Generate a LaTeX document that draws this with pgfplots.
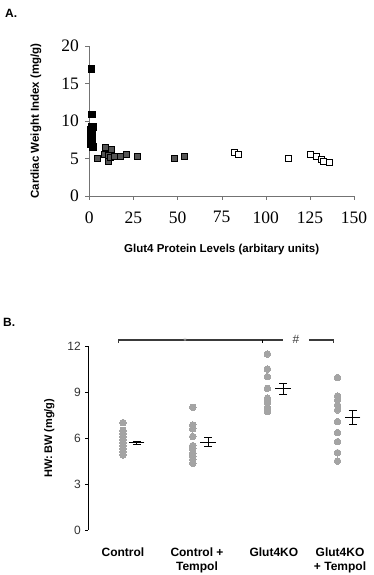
\documentclass[border=0pt]{standalone}
\usepackage{pgfplots}
\pgfplotsset{compat=1.18}
\usepackage{fontspec}
\setmainfont{Liberation Sans}
\newfontfamily\seriffont{Liberation Serif}
\definecolor{darkgraysq}{HTML}{555555}
\definecolor{dotgray}{HTML}{A4A4A4}
\definecolor{brk}{HTML}{3A3A3A}
\begin{document}
\begin{tikzpicture}
\useasboundingbox (0pt,0pt) rectangle (373pt,575pt);
\node[anchor=north west,font=\bfseries\fontsize{12}{12}\selectfont,inner sep=0pt] at (5pt,566pt) {A.};
\node[anchor=north west,font=\bfseries\fontsize{12}{12}\selectfont,inner sep=0pt] at (3pt,257pt) {B.};
% Panel A
\begin{axis}[
  at={(89.3pt,379pt)}, anchor=south west,
  scale only axis, width=264.7pt, height=150pt,
  xmin=0, xmax=150, ymin=0, ymax=20,
  axis lines=left, axis line style={-, black!55},
  xtick={0,25,...,150}, ytick={0,5,...,20},
  tick align=outside, major tick length=4pt,
  tick style={black!55},
  /pgf/number format/assume math mode=true,
  ticklabel style={font=\seriffont\fontsize{17.5}{17.5}\selectfont},
  xticklabel style={yshift=-8pt},
  yticklabel style={xshift=-3pt},
  xlabel={Glut4 Protein Levels (arbitary units)},
  ylabel={Cardiac Weight Index (mg/g)},
  label style={font=\bfseries\fontsize{11.5}{11.5}\selectfont},
  xlabel style={yshift=-14pt},
  ylabel style={yshift=13pt},
  clip=false,
]
\addplot[only marks, mark=square*, mark size=3.3pt, mark options={fill=black, draw=black}] coordinates {
(1,17) (1.5,10.9) (1,9.3) (1.8,9.2) (0.5,8.9) (1.2,8.6) (0.8,8.3) (1.5,8.0) (0.6,7.7) (1.3,7.4) (0.9,7.0) (1.8,6.6)
};
\addplot[only marks, mark=square*, mark size=3pt, mark options={fill=darkgraysq, draw=black, line width=0.8pt}] coordinates {
(4.5,5.03) (8.3,5.6) (8.9,6.45) (10.8,5.47) (10.8,4.57) (12.0,5.1) (12.7,6.23) (14,5.33) (17.4,5.24) (20.8,5.6) (27.2,5.24) (48,4.95) (53.9,5.25)
};
\addplot[only marks, mark=square*, mark size=3pt, mark options={fill=white, draw=black, line width=0.8pt}] coordinates {
(82.0,5.78) (84.5,5.6) (112.8,5.0) (125.5,5.55) (128.9,5.25) (131.7,4.9) (132.6,4.67) (135.9,4.5)
};
\end{axis}
% Panel B
\begin{axis}[
  at={(88.3pt,45pt)}, anchor=south west,
  scale only axis, width=281.4pt, height=184pt,
  xmin=-0.485, xmax=3.45, ymin=0, ymax=12,
  axis y line=left, axis x line=bottom,
  x axis line style={draw=none},
  y axis line style={-, black, line width=0.8pt},
  ytick={0,3,...,12},
  xtick={0,1.035,2.11,3.035},
  xticklabels={Control, Control +\\Tempol, Glut4KO, Glut4KO\\+ Tempol},
  major x tick style={draw=none},
  tick align=outside, major tick length=3pt,
  ytick style={black, line width=0.8pt},
  /pgf/number format/assume math mode=true,
  yticklabel style={font=\fontsize{12}{12}\selectfont, text=black!80, xshift=-1pt},
  xticklabel style={font=\bfseries\fontsize{12}{14.5}\selectfont, align=center, yshift=-11pt},
  ylabel={HW:\,BW (mg/g)},
  ylabel style={font=\bfseries\fontsize{11}{11}\selectfont, yshift=6pt},
  clip=false,
]
\addplot[dotgray, only marks, mark=*, mark size=3.3pt, mark options={fill=dotgray, draw=dotgray, line width=0pt}] coordinates {
(0,7.0) (0,6.5) (0,6.3) (0,6.1) (0,5.9) (0,5.7) (0,5.5) (0,5.3) (0,5.1) (0,4.9)
(0.975,8.0) (0.975,6.85) (0.975,6.6) (0.975,6.1) (0.975,5.5) (0.975,5.3) (0.975,5.0) (0.975,4.8) (0.975,4.6) (0.975,4.35)
(2.02,11.48) (2.02,10.5) (2.02,10.0) (2.02,9.24) (2.02,8.59) (2.02,8.3) (2.02,8.0) (2.02,7.72)
(3.0,9.94) (3.0,8.74) (3.0,8.48) (3.0,8.15) (3.0,7.83) (3.0,7.07) (3.0,6.35) (3.0,5.76) (3.0,5.04) (3.0,4.5)
};
\addplot[black, only marks, mark=-, mark size=7.8pt, mark options={line width=1.1pt, draw=black},
  error bars/.cd, y dir=both, y explicit, error mark=-,
  error bar style={line width=1pt, black},
  error mark options={rotate=90, mark size=4pt, line width=1pt, black}] coordinates {
(0.19,5.68) +- (0,0.1)
(1.19,5.72) +- (0,0.28)
(2.24,9.2) +- (0,0.36)
(3.21,7.35) +- (0,0.45)
};
\draw[brk, line width=1.3pt] (axis cs:-0.066,12.2) -- (axis cs:-0.066,12.4) -- (axis cs:2.24,12.4);
\draw[brk, line width=1.3pt] (axis cs:2.6,12.4) -- (axis cs:2.94,12.4) -- (axis cs:2.94,12.2);
\draw[black, line width=1.8pt] (axis cs:1.95,12.4) -- (axis cs:1.95,12.2);
\node[font=\fontsize{12}{12}\selectfont, text=brk] at (axis cs:2.42,12.4) {\#};
\node[font=\fontsize{9}{9}\selectfont, text=black!35] at (axis cs:0.87,12.28) {*};
\end{axis}
\end{tikzpicture}
\end{document}
